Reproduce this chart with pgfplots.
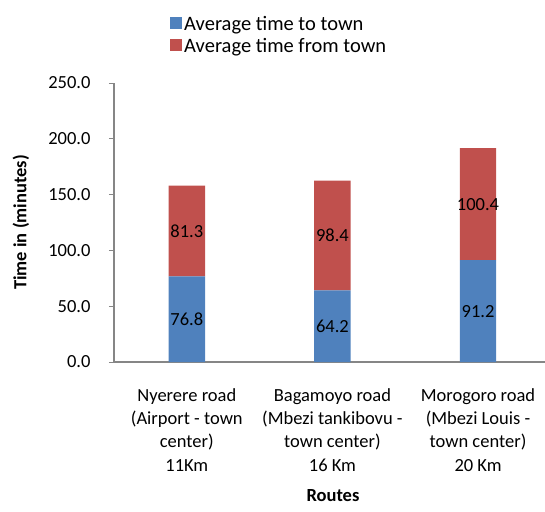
\documentclass[border=0pt]{standalone}
\usepackage{pgfplots}
\pgfplotsset{compat=1.18}
\usepackage{fontspec}
\setmainfont{Carlito}
\definecolor{cblue}{HTML}{4F81BD}
\definecolor{cred}{HTML}{C0504D}
\definecolor{axgray}{HTML}{868686}
\begin{document}
\begin{tikzpicture}
\useasboundingbox (-114bp,-150bp) rectangle (431bp,362bp);
\begin{axis}[
  scale only axis,
  width=431bp, height=279bp,
  at={(0,0)}, anchor=south west,
  ybar stacked,
  bar width=0.25,
  xmin=-0.5, xmax=2.46,
  ymin=0, ymax=250,
  ytick={0,50,100,150,200,250},
  xtick={0,1,2},
  xticklabels={{Nyerere road\\(Airport - town\\center)\\11Km},
               {Bagamoyo road\\(Mbezi tankibovu -\\town center)\\16 Km},
               {Morogoro road\\(Mbezi Louis -\\town center)\\20 Km}},
  x tick style={draw=none},
  y tick style={axgray, line width=1pt},
  major tick length=5bp,
  tick align=outside,
  axis x line*=bottom, axis y line*=left,
  axis line style={axgray, line width=1.2pt, -},
  /pgf/number format/assume math mode=true,
  yticklabel style={font=\fontsize{18.5bp}{22bp}\selectfont, xshift=-15bp, /pgf/number format/.cd, fixed, fixed zerofill, precision=1},
  xticklabel style={font=\fontsize{18.5bp}{23.3bp}\selectfont, align=center, yshift=-18bp},
  ylabel={\textbf{Time in (minutes)}},
  xlabel={\textbf{Routes}},
  ylabel style={at={(axis description cs:-0.216,0.5)}, rotate=0, anchor=center, font=\fontsize{18.5bp}{22bp}\selectfont},
  xlabel style={at={(axis description cs:0.508,-0.477)}, anchor=center, font=\fontsize{18.5bp}{22bp}\selectfont},
  nodes near coords,
  every node near coord/.append style={anchor=center, font=\fontsize{18.5bp}{22bp}\selectfont, /pgf/number format/.cd, fixed, fixed zerofill, precision=1},
  legend style={at={(axis description cs:0.13,1.248)}, anchor=north west, draw=none, font=\fontsize{20.5bp}{23bp}\selectfont, row sep=2.5bp, inner sep=0pt, nodes={inner sep=2bp}},
  legend cell align=left,
  legend image code/.code={\fill[#1] (1bp,-5bp) rectangle (13bp,7bp);},
]
\addplot[fill=cblue, draw=none] coordinates {(0,76.8) (1,64.2) (2,91.2)};
\addlegendentry{Average time to town}
\addplot[fill=cred, draw=none] coordinates {(0,81.3) (1,98.4) (2,100.4)};
\addlegendentry{Average time from town}
\end{axis}
\end{tikzpicture}
\end{document}
